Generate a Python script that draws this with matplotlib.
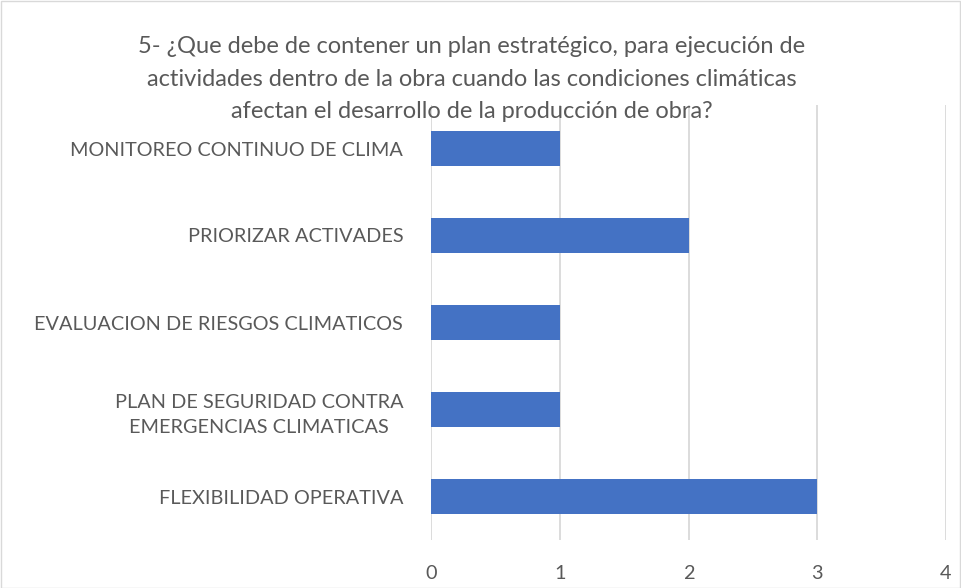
import matplotlib
matplotlib.use("Agg")
import matplotlib.pyplot as plt
from matplotlib.patches import Rectangle

plt.rcParams['font.family'] = ['Lato', 'DejaVu Sans']

categorias = ["MONITOREO CONTINUO DE CLIMA",
              "PRIORIZAR ACTIVADES",
              "EVALUACION DE RIESGOS CLIMATICOS",
              "PLAN DE SEGURIDAD CONTRA\nEMERGENCIAS CLIMATICAS",
              "FLEXIBILIDAD OPERATIVA"]
valores = [1, 2, 1, 1, 3]
ticks_x = [0, 1, 2, 3, 4]
titulo = ("5- ¿Que debe de contener un plan estratégico, para ejecución de\n"
          "actividades dentro de la obra cuando las condiciones climáticas\n"
          "afectan el desarrollo de la producción de obra?")

gris = "#595959"
fig = plt.figure(figsize=(9.61, 5.88), dpi=100)
ax = fig.add_axes([431/961, 1 - 540/588, (946-431)/961, (540-105)/588])

pos = list(range(len(categorias)))
ax.barh(pos, valores, height=0.4, color="#4472C4", zorder=3)
ax.set_ylim(len(categorias) - 0.5, -0.5)
ax.set_xlim(0, 4)
ax.set_xticks(ticks_x)
ax.set_yticks(pos)
ax.set_yticklabels(categorias, fontsize=14.3, color=gris, ha="right",
                   multialignment="center", linespacing=1.6)
ax.tick_params(axis="y", length=0, pad=20)
ax.tick_params(axis="x", length=0, labelsize=14.3, labelcolor=gris, pad=18)
ax.grid(axis="x", color="#d9d9d9", linewidth=1.3, zorder=0)
for s in ax.spines.values():
    s.set_visible(False)

fig.text(0.4905, 1 - 79/588, titulo, ha="center", va="center", fontsize=17,
         color=gris, linespacing=1.65, zorder=5)

fig.patches.append(Rectangle((0.5/961, 0.5/588), 1 - 1.5/961, 1 - 1.5/588,
                             transform=fig.transFigure, fill=False,
                             edgecolor="#d9d9d9", linewidth=1))

fig.savefig("out.png", dpi=100)
